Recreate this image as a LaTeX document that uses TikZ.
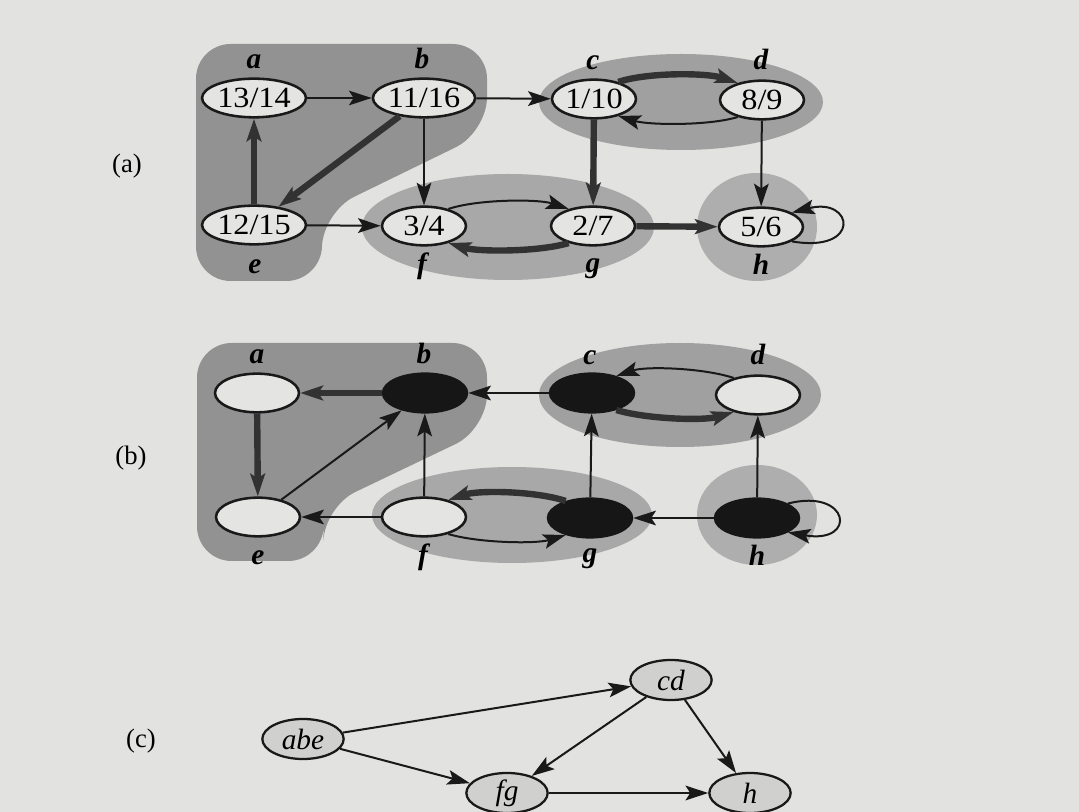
\documentclass[tikz,border=0pt]{standalone}
\usepackage{fontspec}
\setmainfont{Liberation Serif}
\newfontfamily\numfam[FakeStretch=1.1]{Liberation Serif}
\usetikzlibrary{shapes.geometric,arrows.meta}
\definecolor{paper}{RGB}{226,226,224}
\definecolor{shadeabe}{RGB}{146,146,146}
\definecolor{shadecd}{RGB}{160,160,160}
\definecolor{shadefg}{RGB}{168,168,168}
\definecolor{shadeh}{RGB}{174,174,174}
\definecolor{nodefill}{RGB}{228,228,226}
\definecolor{nodeblack}{RGB}{22,22,22}
\definecolor{cfill}{RGB}{208,208,206}
\definecolor{inkc}{RGB}{25,25,25}
\definecolor{treec}{RGB}{50,50,50}
\newcommand\vnumfont{\numfam\fontsize{22}{26}\selectfont}
\newcommand\vlabfont{\fontsize{22}{26}\selectfont\bfseries\itshape}
\newcommand\vcfont{\fontsize{22}{26}\selectfont\itshape}
\newcommand\plabfont{\fontsize{20}{24}\selectfont}
\begin{document}
\begin{tikzpicture}[x=0.75pt,y=-0.75pt,
  vtx/.style={ellipse, draw=inkc, line width=1.9pt, fill=nodefill,
    minimum width=63pt, minimum height=29pt, inner sep=0pt, font=\vnumfont},
  blk/.style={vtx, fill=nodeblack, draw=nodeblack},
  cvtx/.style={vtx, fill=cfill, font=\vcfont, minimum width=61pt, minimum height=30pt, line width=1.7pt},
  vlab/.style={anchor=base, font=\vlabfont, inner sep=0pt},
  plab/.style={font=\plabfont, inner sep=0pt},
  thinedge/.style={draw=inkc, line width=1.5pt, -{Stealth[length=17pt,width=11pt,inset=3.5pt]}},
  treeedge/.style={thinedge, draw=treec, line width=4.8pt}
]
\useasboundingbox (0,0) rectangle (1079,812);
\clip (0,0) rectangle (1079,812);
\fill[paper] (0,0) rectangle (1079,812);

% ---------- (a) shaded components ----------
\fill[shadeabe, rounded corners=26pt] (196,44) -- (487,44) -- (487,132) -- (323,212) -- (321,281) -- (196,281) -- cycle;
\fill[shadecd] (681,102) ellipse [x radius=142, y radius=48];
\fill[shadefg] (508,227) ellipse [x radius=146, y radius=53];
\fill[shadeh] (757,227) ellipse [x radius=60, y radius=54];

% ---------- (b) shaded components ----------
\fill[shadeabe, rounded corners=26pt] (197,343) -- (487,343) -- (487,429) -- (324,507) -- (323,561) -- (197,561) -- cycle;
\fill[shadecd] (680,395) ellipse [x radius=141, y radius=52];
\fill[shadefg] (512,515) ellipse [x radius=140, y radius=48];
\fill[shadeh] (757,515) ellipse [x radius=60, y radius=50];

% ---------- (a) nodes ----------
\node[vtx] (a1) at (254,98) {13/14};
\node[vtx] (b1) at (424,98) {11/16};
\node[vtx] (c1) at (594,99) {1/10};
\node[vtx] (d1) at (762,100) {8/9};
\node[vtx] (e1) at (254,225) {12/15};
\node[vtx] (f1) at (424,226) {3/4};
\node[vtx] (g1) at (593,226) {2/7};
\node[vtx] (h1) at (761,227) {5/6};

\node[vlab] (la1) at (254,69) {a};
\node[vlab] (lb1) at (422,69) {b};
\node[vlab] (lc1) at (593,70) {c};
\node[vlab] (ld1) at (761,70) {d};
\node[vlab] (le1) at (255,274) {e};
\node[vlab] (lf1) at (422,274) {f};
\node[vlab] (lg1) at (593,273) {g};
\node[vlab] (lh1) at (761,275) {h};
\node[plab] (pa) at (127,166) {(a)};

% ---------- (a) edges ----------
\draw[thinedge] (a1) -- (b1);
\draw[thinedge] (b1) -- (c1);
\draw[treeedge] (c1.35) .. controls +(30,-10) and +(-30,-10) .. (d1.145);
\draw[thinedge] (d1.215) .. controls +(-30,9) and +(30,9) .. (c1.325);
\draw[thinedge] (b1) -- (f1);
\draw[thinedge] (e1) -- (f1);
\draw[treeedge] (e1) -- (a1);
\draw[treeedge] (b1) -- (e1);
\draw[treeedge] (c1) -- (g1);
\draw[treeedge] (g1) -- (h1);
\draw[thinedge] (d1) -- (h1);
\draw[thinedge] (f1.35) .. controls +(30,-10) and +(-30,-10) .. (g1.145);
\draw[treeedge] (g1.215) .. controls +(-30,9) and +(30,9) .. (f1.325);
\draw[thinedge] (h1.-25) .. controls +(70,12) and +(62,-16) .. (h1.25);

% ---------- (b) nodes ----------
\node[vtx] (a2) at (257,393) {};
\node[blk] (b2) at (425,393) {};
\node[blk] (c2) at (592,393) {};
\node[vtx] (d2) at (758,395) {};
\node[vtx] (e2) at (258,517) {};
\node[vtx] (f2) at (424,517) {};
\node[blk] (g2) at (590,518) {};
\node[blk] (h2) at (757,518) {};

\node[vlab] (la2) at (257,364) {a};
\node[vlab] (lb2) at (424,364) {b};
\node[vlab] (lc2) at (590,365) {c};
\node[vlab] (ld2) at (758,365) {d};
\node[vlab] (le2) at (258,565) {e};
\node[vlab] (lf2) at (423,565) {f};
\node[vlab] (lg2) at (590,563) {g};
\node[vlab] (lh2) at (757,566) {h};
\node[plab] (pb) at (131,458) {(b)};

% ---------- (b) edges ----------
\draw[treeedge] (b2) -- (a2);
\draw[treeedge] (a2) -- (e2);
\draw[thinedge] (e2) -- (b2);
\draw[thinedge] (f2) -- (b2);
\draw[thinedge] (c2) -- (b2);
\draw[thinedge] (d2.145) .. controls +(-30,-10) and +(30,-10) .. (c2.35);
\draw[treeedge] (c2.325) .. controls +(30,9) and +(-30,9) .. (d2.215);
\draw[thinedge] (g2) -- (c2);
\draw[thinedge] (h2) -- (d2);
\draw[thinedge] (h2) -- (g2);
\draw[thinedge] (f2) -- (e2);
\draw[treeedge] (g2.145) .. controls +(-30,-10) and +(30,-10) .. (f2.35);
\draw[thinedge] (f2.325) .. controls +(30,9) and +(-30,9) .. (g2.215);
\draw[thinedge] (h2.25) .. controls +(62,-16) and +(70,12) .. (h2.-25);

% ---------- (c) ----------
\node[cvtx] (abe) at (303,739) {abe};
\node[cvtx] (cd) at (671,680) {cd};
\node[cvtx] (fg) at (507,793) {fg};
\node[cvtx] (hh) at (750,793) {h};
\node[plab] (pc) at (141,741) {(c)};
\draw[thinedge] (abe) -- (cd);
\draw[thinedge] (abe) -- (fg);
\draw[thinedge] (cd) -- (fg);
\draw[thinedge] (cd) -- (hh);
\draw[thinedge] (fg) -- (hh);
\end{tikzpicture}
\end{document}
